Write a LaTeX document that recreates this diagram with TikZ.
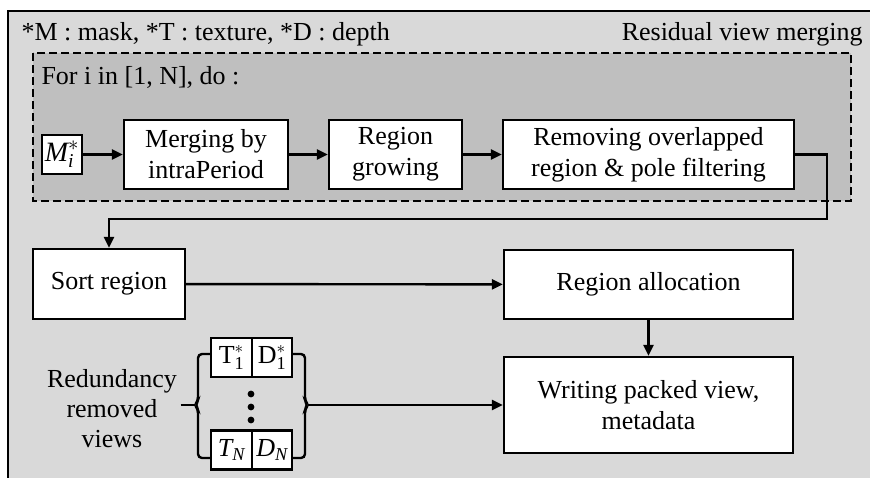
\documentclass[tikz,border=0pt]{standalone}
\usepackage{amsmath}
\usepackage{fontspec}
\setmainfont{Liberation Serif}
\usetikzlibrary{arrows.meta}
\definecolor{outergray}{HTML}{D9D9D9}
\definecolor{innergray}{HTML}{BFBFBF}
\newcommand{\ivar}[1]{\text{\itshape #1}}
\tikzset{
    stepbox/.style={draw, fill=white, line width=2.4pt, inner sep=2pt, align=center},
    flow/.style={line width=2.4pt, -{Triangle[length=11pt,width=10pt]}},
    plainline/.style={line width=2.4pt},
}
\begin{document}
\begin{tikzpicture}[x=1pt, y=-1pt, font=\fontsize{26}{31}\selectfont]
        \clip (0,0) rectangle (870,477);
        % outer box, runs off the page at right and bottom
        \draw[fill=outergray, line width=2.4pt] (8,11) rectangle (890,500);
        \node[anchor=west] (legend) at (18,34) {*M : mask, *T : texture, *D : depth};
        \node[anchor=east] (title) at (866,34) {Residual view merging};
        % loop box
        \draw[fill=innergray, line width=2.4pt, dash pattern=on 8pt off 4pt] (33,53) rectangle (851,201);
        \node[anchor=west] (loop) at (38,77) {For i in [1, N], do :};
        % steps inside the loop
        \node[stepbox, minimum width=40pt, minimum height=39pt, inner sep=0pt, font=\fontsize{28}{31}\selectfont] (mi) at (62,154.5) {$\ivar{M}_{\ivar{i}}^{*}$};
        \node[stepbox, minimum width=164pt, minimum height=69pt] (merge) at (206,154.5) {Merging by\\intraPeriod};
        \node[stepbox, minimum width=133pt, minimum height=69pt] (grow) at (395.5,154.5) {Region\\growing};
        \node[stepbox, minimum width=291pt, minimum height=69pt] (remove) at (648.5,154.5) {Removing overlapped\\region \& pole filtering};
        \draw[flow] (mi) -- (merge);
        \draw[flow] (merge) -- (grow);
        \draw[flow] (grow) -- (remove);
        % steps after the loop
        \node[stepbox, minimum width=152pt, minimum height=70pt] (sort) at (109,284) {Sort region};
        \node[stepbox, minimum width=289pt, minimum height=69pt] (alloc) at (648.5,284.5) {Region allocation};
        \node[stepbox, minimum width=289pt, minimum height=96pt] (write) at (648.5,405) {Writing packed view,\\metadata};
        \draw[flow] (remove.east) -- (827,154.5) -- (827,219) -| (sort.north);
        \draw[flow] (sort) -- (alloc);
        \draw[flow] (alloc) -- (write);
        % texture and depth views
        \node[stepbox, minimum width=41pt, minimum height=39pt, inner sep=0pt] (t1) at (231.5,357.5) {$\text{T}_{\text{1}}^{*}$};
        \node[stepbox, minimum width=40pt, minimum height=39pt, inner sep=0pt] (d1) at (272,357.5) {$\text{D}_{\text{1}}^{*}$};
        \node[stepbox, minimum width=41pt, minimum height=39pt, inner sep=0pt] (tn) at (231.5,450) {$\ivar{T}_{\ivar{N}}$};
        \node[stepbox, minimum width=40pt, minimum height=39pt, inner sep=0pt] (dn) at (272,450) {$\ivar{D}_{\ivar{N}}$};
        \foreach \y in {394,407,420}
            \fill (251,\y) circle (3.4pt);
        % braces round the views
        \draw[plainline, rounded corners=4pt] (t1.west |- 0,354) -- (198,354) -- (198,401) -- (195,405) -- (198,409) -- (198,458) -- (tn.west |- 0,458);
        \draw[plainline, rounded corners=4pt] (d1.east |- 0,354) -- (305,354) -- (305,401) -- (308,405) -- (305,409) -- (305,458) -- (dn.east |- 0,458);
        \coordinate (lb) at (195,405);
        \coordinate (rb) at (308,405);
        \node[align=center, font=\fontsize{26}{30}\selectfont] (views) at (112,409) {Redundancy\\removed\\views};
        \draw[plainline] (views.east |- lb) -- (lb);
        \draw[flow] (rb) -- (write.west |- rb);
    \end{tikzpicture}
\end{document}
